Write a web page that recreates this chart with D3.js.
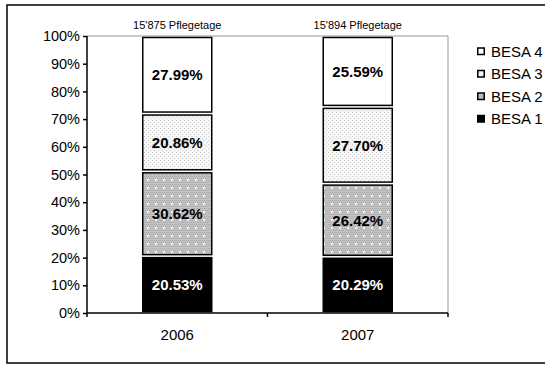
<!DOCTYPE html>
<html>
<head>
<meta charset="utf-8">
<script src="https://cdn.jsdelivr.net/npm/d3@7"></script>
<style>
  html, body { margin: 0; padding: 0; background: #fff; }
  svg { display: block; font-family: "Liberation Sans", Arial, sans-serif; }
</style>
</head>
<body>
<svg id="chart" width="545" height="365"></svg>
<script>
// Pflegetage distribution by BESA level, share of total
const years = ["2006", "2007"];
const totals = ["15'875 Pflegetage", "15'894 Pflegetage"];
const levels = ["BESA 1", "BESA 2", "BESA 3", "BESA 4"];
const besa1 = [20.53, 20.29];
const besa2 = [30.62, 26.42];
const besa3 = [20.86, 27.70];
const besa4 = [27.99, 25.59];
const yTicks = [0, 10, 20, 30, 40, 50, 60, 70, 80, 90, 100];

const seriesValues = [besa1, besa2, besa3, besa4];
const rows = years.map((yr, i) => {
  const r = { year: yr };
  levels.forEach((lv, k) => { r[lv] = seriesValues[k][i]; });
  return r;
});

const svg = d3.select("#chart");
const margin = { left: 87, right: 97, top: 36, bottom: 52 };
const W = 545, H = 365;
const x0 = margin.left, x1 = W - margin.right;
const y0 = H - margin.bottom, y1 = margin.top;

// fill patterns
const defs = svg.append("defs");
const p2 = defs.append("pattern").attr("id", "pat2").attr("patternUnits", "userSpaceOnUse")
  .attr("width", 8).attr("height", 8);
p2.append("rect").attr("width", 8).attr("height", 8).attr("fill", "#c2c2c2");
for (let i = 0; i < 8; i += 2) for (let j = 0; j < 8; j += 2)
  p2.append("rect").attr("x", i + (j % 4 ? 1 : 0)).attr("y", j).attr("width", 1).attr("height", 1).attr("fill", "#a8a8a8");
p2.append("rect").attr("x", 3).attr("y", 3).attr("width", 2).attr("height", 2).attr("fill", "#f4f4f4");

const p3 = defs.append("pattern").attr("id", "pat3").attr("patternUnits", "userSpaceOnUse")
  .attr("width", 4).attr("height", 4);
p3.append("rect").attr("width", 4).attr("height", 4).attr("fill", "#f6f6f6");
p3.append("rect").attr("x", 0).attr("y", 0).attr("width", 1).attr("height", 1).attr("fill", "#cfcfcf");
p3.append("rect").attr("x", 2).attr("y", 2).attr("width", 1).attr("height", 1).attr("fill", "#cfcfcf");

const fills = { "BESA 1": "#000", "BESA 2": "url(#pat2)", "BESA 3": "url(#pat3)", "BESA 4": "#fff" };
const labelColor = { "BESA 1": "#fff", "BESA 2": "#000", "BESA 3": "#000", "BESA 4": "#000" };

// outer frame
svg.append("rect").attr("x", 7).attr("y", 5).attr("width", 545).attr("height", 358)
  .attr("fill", "none").attr("stroke", "#000").attr("stroke-width", 1.5);

const x = d3.scaleBand().domain(years).range([x0, x1]).paddingInner(0).paddingOuter(0);
const y = d3.scaleLinear().domain([0, 100]).range([y0, y1]);
const barW = 69;

// plot area top and right edges
svg.append("line").attr("x1", x0).attr("x2", x1).attr("y1", y1).attr("y2", y1)
  .attr("stroke", "#999").attr("stroke-width", 1);
svg.append("line").attr("x1", x1).attr("x2", x1).attr("y1", y1).attr("y2", y0)
  .attr("stroke", "#999").attr("stroke-width", 1);

const stack = d3.stack().keys(levels)(rows);

const g = svg.append("g");
stack.forEach(layer => {
  const key = layer.key;
  layer.forEach((d, i) => {
    const cx = x(years[i]) + x.bandwidth() / 2;
    const top = y(d[1]), bot = y(d[0]);
    g.append("rect")
      .attr("x", cx - barW / 2).attr("y", top + 1.5)
      .attr("width", barW).attr("height", Math.max(0, bot - top - 3))
      .attr("fill", fills[key]).attr("stroke", "#000").attr("stroke-width", 1.5);
    g.append("text")
      .attr("x", cx).attr("y", (top + bot) / 2)
      .attr("dy", "0.36em").attr("text-anchor", "middle")
      .attr("font-size", 15).attr("font-weight", "bold")
      .attr("fill", labelColor[key])
      .text(d.data[key].toFixed(2) + "%");
  });
});

// y axis
const yAxis = svg.append("g").attr("transform", `translate(${x0},0)`)
  .call(d3.axisLeft(y).tickValues(yTicks).tickFormat(d => d + "%").tickSize(4).tickPadding(3));
yAxis.select(".domain").attr("stroke", "#000").attr("stroke-width", 1.5).attr("d", `M0,${y0}V${y1}`);
yAxis.selectAll(".tick line").attr("stroke", "#000").attr("stroke-width", 1.5);
yAxis.selectAll(".tick text").attr("font-size", 14.5).attr("fill", "#000")
  .attr("font-family", "Liberation Sans, Arial, sans-serif");

// x axis with boundary ticks between categories
const xAxis = svg.append("g").attr("transform", `translate(0,${y0})`);
xAxis.append("line").attr("x1", x0).attr("x2", x1).attr("y1", 0).attr("y2", 0)
  .attr("stroke", "#000").attr("stroke-width", 1.5);
const bounds = [x0].concat(years.map(yr => x(yr) + x.bandwidth()));
xAxis.selectAll("line.b").data(bounds).join("line").attr("class", "b")
  .attr("x1", d => d).attr("x2", d => d).attr("y1", 0).attr("y2", 4)
  .attr("stroke", "#000").attr("stroke-width", 1.5);
xAxis.selectAll("text").data(years).join("text")
  .attr("x", d => x(d) + x.bandwidth() / 2).attr("y", 22).attr("dy", "0.36em")
  .attr("text-anchor", "middle").attr("font-size", 15).attr("fill", "#000")
  .text(d => d);

// totals above bars
svg.selectAll("text.total").data(years).join("text").attr("class", "total")
  .attr("x", d => x(d) + x.bandwidth() / 2).attr("y", 25).attr("dy", "0.36em")
  .attr("text-anchor", "middle").attr("font-size", 11).attr("fill", "#000")
  .text((d, i) => totals[i]);

// legend, top level first
const legend = svg.append("g").attr("transform", "translate(477,51.5)");
levels.slice().reverse().forEach((lv, i) => {
  const row = legend.append("g").attr("transform", `translate(0,${i * 22.5})`);
  row.append("rect").attr("x", 0.75).attr("y", -3.5).attr("width", 6.5).attr("height", 6.5)
    .attr("fill", fills[lv]).attr("stroke", "#000").attr("stroke-width", 1.5);
  row.append("text").attr("x", 14).attr("y", 0).attr("dy", "0.36em")
    .attr("font-size", 15).attr("fill", "#000").text(lv);
});
</script>
</body>
</html>
